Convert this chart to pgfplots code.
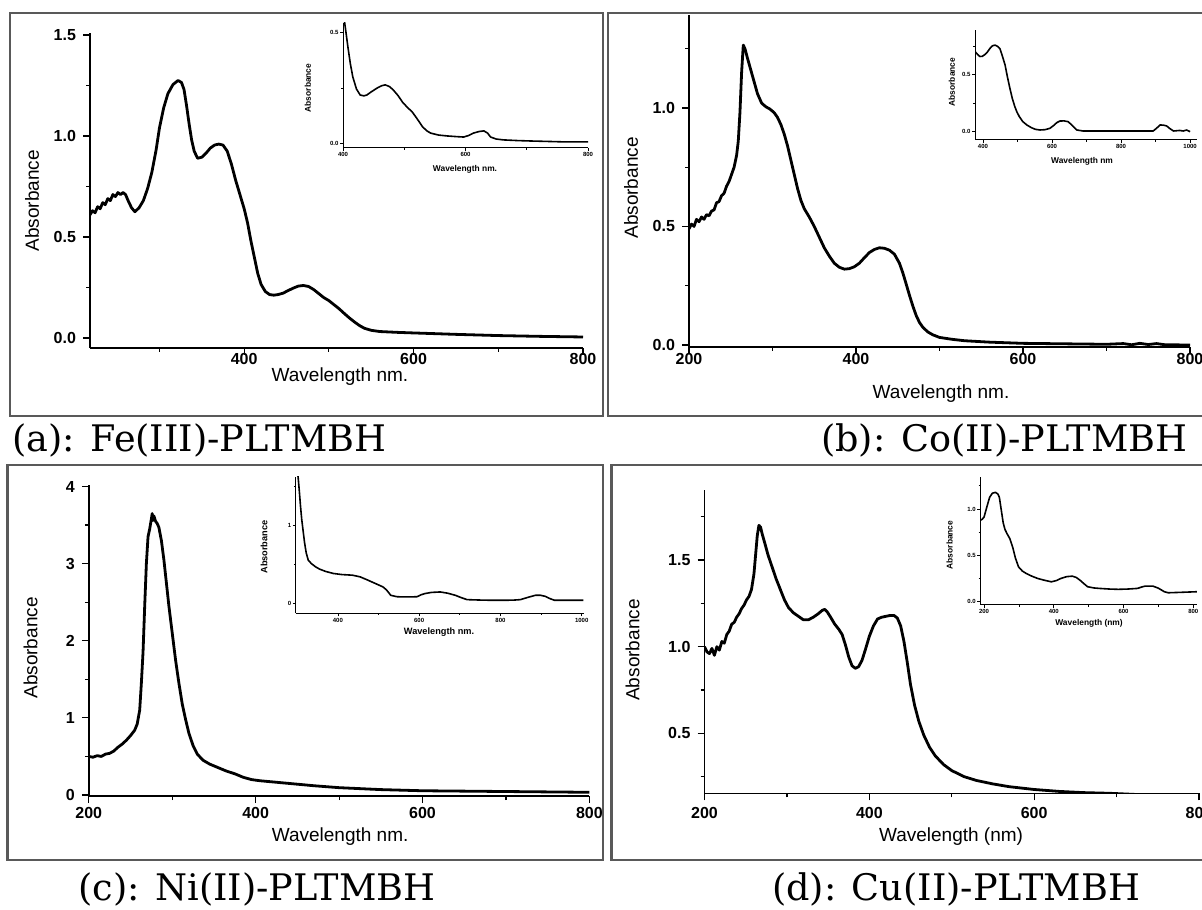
\documentclass[border=0pt]{standalone}
\usepackage{fontspec}
\setmainfont{Liberation Sans}
\newfontfamily\capfont{DejaVu Serif}
\usepackage{pgfplots}
\pgfplotsset{compat=1.18}
\pgfplotsset{
  mainax/.style={scale only axis, axis x line*=bottom, axis y line*=left,
    tick align=outside, major tick length=3.5pt, minor tick length=2pt,
    every tick/.style={black, line width=0.6pt},
    axis line style={line width=0.75pt},
    /pgf/number format/assume math mode=true,
    /pgf/number format/1000 sep={},
    tick label style={font=\bfseries\fontsize{8}{9}\selectfont},
    label style={font=\fontsize{9.5}{11}\selectfont},
    xlabel={Wavelength nm.}, ylabel={Absorbance},
    xtick={200,400,600,800}, minor xtick={300,500,700},
    clip=true},
  inax/.style={scale only axis, axis x line*=bottom, axis y line*=left,
    tick align=outside, major tick length=1.5pt, minor tick length=0.8pt,
    every tick/.style={black, line width=0.4pt},
    axis line style={line width=0.5pt},
    /pgf/number format/assume math mode=true,
    /pgf/number format/1000 sep={},
    tick label style={font=\bfseries\fontsize{3}{3.5}\selectfont, inner sep=0.6pt},
    label style={font=\bfseries\fontsize{4.2}{5}\selectfont},
    xlabel={Wavelength nm.}, ylabel={Absorbance}},
  dec1/.style={yticklabel style={/pgf/number format/.cd, fixed, fixed zerofill, precision=1}},
  curve/.style={black, line width=1.4pt, line join=round},
  icurve/.style={black, line width=0.8pt, line join=round}
}
\begin{document}
\begin{tikzpicture}[x=0.5pt,y=0.5pt]
\path[use as bounding box] (0,0) rectangle (1202,909);
\clip (0,0) rectangle (1202,909);
\fill[white] (0,0) rectangle (1202,909);
% frames
\draw[black!65, line width=1.3pt] (10,896) rectangle (603,493);
\draw[black!65, line width=1.3pt] (608,896) rectangle (1215,493);
\draw[black!65, line width=1.3pt] (7.7,444) rectangle (603,49);
\draw[black!65, line width=1.3pt] (611.5,444) rectangle (1215,49);
% captions
\node[anchor=base west, inner sep=0pt, font=\capfont\fontsize{18.3}{20}\selectfont] at (12,457) {(a): Fe(III)-PLTMBH};
\node[anchor=base east, inner sep=0pt, font=\capfont\fontsize{18.3}{20}\selectfont] at (1188,457) {(b): Co(II)-PLTMBH};
\node[anchor=base, inner sep=0pt, font=\capfont\fontsize{18.3}{20}\selectfont] at (257,9) {(c): Ni(II)-PLTMBH};
\node[anchor=base, inner sep=0pt, font=\capfont\fontsize{18.3}{20}\selectfont] at (956,9) {(d): Cu(II)-PLTMBH};

% ---------- (a) main
\begin{axis}[mainax, dec1, at={(45pt,280.5pt)}, anchor=south west,
  width=246.5pt, height=157.5pt, xmin=218, xmax=800, ymin=-0.0495, ymax=1.51,
  xtick={400,600,800},
  xticklabel style={yshift=4.5pt},
  ytick={0,0.5,1,1.5}, minor ytick={0.25,0.75,1.25},
  xlabel style={at={(axis description cs:0.507,-0.092)}, anchor=center},
  ylabel style={at={(axis description cs:-0.1176,0.467)}, anchor=center}]
\addplot[curve] coordinates {
(218,0.61)(221,0.63)(224,0.62)(227,0.65)(230,0.64)(233,0.67)(236,0.66)(239,0.69)
(242,0.68)(245,0.71)(248,0.70)(251,0.72)(254,0.71)(257,0.72)(260,0.71)(263,0.68)
(267,0.645)(271,0.625)(276,0.645)(281,0.68)(286,0.74)(291,0.82)(296,0.93)(300,1.04)
(305,1.14)(310,1.21)(316,1.255)(322,1.275)(326,1.265)(329,1.23)(332,1.15)(335,1.06)
(338,0.98)(341,0.925)(345,0.89)(350,0.895)(355,0.915)(360,0.94)(365,0.955)(370,0.96)
(375,0.955)(380,0.925)(385,0.86)(390,0.78)(395,0.71)(400,0.64)(404,0.57)(408,0.48)
(412,0.40)(416,0.32)(420,0.265)(425,0.23)(430,0.215)(435,0.212)(440,0.215)(446,0.222)
(452,0.235)(458,0.247)(464,0.257)(470,0.26)(476,0.255)(482,0.24)(488,0.22)(494,0.20)
(500,0.185)(506,0.165)(512,0.145)(518,0.122)(524,0.10)(530,0.08)(536,0.062)(542,0.048)
(550,0.038)(560,0.032)(580,0.028)(600,0.025)(650,0.018)(700,0.012)(750,0.008)(800,0.005)};
\end{axis}
% ---------- (a) inset
\begin{axis}[inax, dec1, at={(171.5pt,380.5pt)}, anchor=south west,
  width=122.5pt, height=62.5pt, xmin=400, xmax=800, ymin=-0.0227, ymax=0.545,
  xtick={400,600,800}, minor xtick={500,700},
  ytick={0,0.5}, minor ytick={0.25},
  xlabel style={at={(axis description cs:0.498,-0.08)}, anchor=north},
  ylabel style={at={(axis description cs:-0.143,0.48)}, anchor=center}]
\addplot[icurve] coordinates {
(401,0.58)(404,0.52)(408,0.436)(412,0.36)(416,0.30)(422,0.245)(428,0.218)(434,0.214)
(439,0.218)(446,0.232)(456,0.25)(463,0.26)(469,0.264)(476,0.256)(482,0.241)(490,0.215)
(497,0.186)(505,0.162)(513,0.141)(521,0.11)(530,0.073)(537,0.055)(543,0.045)(556,0.036)
(570,0.032)(585,0.029)(597,0.027)(605,0.034)(613,0.045)(622,0.052)(630,0.055)(636,0.045)
(641,0.027)(650,0.018)(662,0.014)(685,0.011)(707,0.009)(735,0.007)(761,0.005)(800,0.005)};
\end{axis}

% ---------- (b) main
\begin{axis}[mainax, dec1, at={(344.5pt,281pt)}, anchor=south west,
  width=250.5pt, height=166pt, xmin=200, xmax=800, ymin=-0.0084, ymax=1.392,
  xticklabel style={yshift=4pt},
  ytick={0,0.5,1}, minor ytick={0.25,0.75,1.25},
  xlabel style={at={(axis description cs:0.503,-0.1416)}, anchor=center},
  ylabel style={at={(axis description cs:-0.1158,0.479)}, anchor=center}]
\addplot[curve] coordinates {
(200,0.49)(203,0.51)(206,0.50)(209,0.53)(212,0.52)(215,0.54)(218,0.53)(221,0.55)
(224,0.545)(227,0.565)(230,0.57)(233,0.60)(236,0.605)(239,0.63)(242,0.64)(245,0.67)
(248,0.69)(251,0.72)(254,0.75)(257,0.80)(259,0.86)(261,0.98)(263,1.15)(265,1.265)
(267,1.25)(270,1.21)(274,1.16)(278,1.11)(282,1.06)(287,1.02)(292,1.005)(297,0.995)
(302,0.98)(306,0.96)(310,0.93)(314,0.89)(318,0.84)(322,0.78)(326,0.72)(330,0.66)
(334,0.61)(338,0.575)(344,0.54)(350,0.50)(356,0.455)(362,0.41)(368,0.375)(374,0.345)
(380,0.328)(386,0.32)(392,0.322)(398,0.33)(404,0.345)(410,0.368)(416,0.39)(422,0.403)
(428,0.41)(434,0.408)(440,0.40)(446,0.383)(452,0.345)(456,0.305)(460,0.258)(464,0.21)
(468,0.165)(472,0.125)(476,0.095)(480,0.075)(486,0.055)(492,0.043)(500,0.032)(515,0.024)
(530,0.018)(560,0.012)(600,0.007)(650,0.005)(700,0.003)(720,0.006)(730,0.001)(740,0.007)
(750,0.002)(760,0.006)(770,0.001)(800,0.0)};
\end{axis}
% ---------- (b) inset
\begin{axis}[inax, dec1, at={(487.5pt,384.5pt)}, anchor=south west,
  width=111pt, height=55pt, xmin=377, xmax=1020, ymin=-0.08, ymax=0.9,
  xtick={400,600,800,1000}, minor xtick={500,700,900},
  ytick={0,0.5}, minor ytick={0.25,0.75},
  xlabel={Wavelength nm},
  xlabel style={at={(axis description cs:0.482,-0.091)}, anchor=north},
  ylabel style={at={(axis description cs:-0.104,0.527)}, anchor=center}]
\addplot[icurve] coordinates {
(377,0.708)(385,0.68)(391,0.664)(398,0.665)(405,0.68)(412,0.70)(420,0.735)(428,0.76)
(435,0.765)(442,0.755)(449,0.735)(456,0.67)(464,0.589)(471,0.48)(478,0.381)(485,0.29)
(492,0.22)(498,0.172)(505,0.13)(515,0.085)(527,0.054)(540,0.03)(552,0.015)(565,0.009)
(580,0.012)(594,0.024)(605,0.05)(614,0.075)(623,0.089)(635,0.09)(647,0.083)(660,0.045)
(672,0.009)(690,0.0)(710,0.0)(893,0.0)(903,0.025)(913,0.054)(923,0.052)(932,0.045)
(942,0.02)(952,0.0)(970,0.005)(980,0.0)(990,0.009)(1000,-0.006)};
\end{axis}

% ---------- (c) main
\begin{axis}[mainax, at={(44.4pt,56.5pt)}, anchor=south west,
  width=250.3pt, height=155.5pt, xmin=200, xmax=800, ymin=-0.013, ymax=4.02,
  xticklabel style={yshift=1.5pt},
  ytick={0,1,2,3,4}, minor ytick={0.5,1.5,2.5,3.5},
  xlabel style={at={(axis description cs:0.502,-0.131)}, anchor=center},
  ylabel style={at={(axis description cs:-0.1163,0.476)}, anchor=center}]
\addplot[curve] coordinates {
(200,0.50)(205,0.49)(210,0.51)(215,0.50)(220,0.53)(225,0.54)(230,0.57)(235,0.62)
(240,0.66)(245,0.71)(250,0.77)(255,0.84)(258,0.92)(261,1.10)(263,1.45)(265,1.85)
(267,2.45)(269,3.0)(271,3.35)(273,3.45)(275,3.58)(276,3.65)(277,3.56)(278,3.62)
(280,3.55)(282,3.52)(284,3.47)(287,3.30)(290,3.05)(293,2.75)(296,2.45)(300,2.10)
(304,1.75)(308,1.45)(312,1.18)(316,0.98)(320,0.80)(325,0.64)(330,0.53)(337,0.45)
(345,0.40)(355,0.355)(365,0.31)(375,0.275)(385,0.23)(395,0.20)(405,0.185)(420,0.17)
(440,0.15)(470,0.12)(500,0.095)(550,0.07)(600,0.055)(700,0.045)(800,0.035)};
\end{axis}
% ---------- (c) inset
\begin{axis}[inax, at={(147.9pt,147.85pt)}, anchor=south west,
  width=143.9pt, height=68.3pt, xmin=296.4, xmax=1004.7, ymin=-0.129, ymax=1.631,
  xtick={400,600,800,1000}, minor xtick={500,700,900},
  ytick={0,1}, minor ytick={0.5,1.5},
  label style={font=\bfseries\fontsize{4.6}{5.5}\selectfont},
  xlabel style={at={(axis description cs:0.4976,-0.135)}, anchor=center},
  ylabel style={at={(axis description cs:-0.11,0.485)}, anchor=center}]
\addplot[icurve] coordinates {
(300,1.70)(302,1.63)(305,1.45)(308,1.25)(311,1.08)(314,0.95)(318,0.78)(322,0.65)
(327,0.556)(335,0.51)(345,0.47)(355,0.44)(370,0.41)(389,0.384)(410,0.37)(436,0.362)
(455,0.34)(473,0.30)(490,0.26)(511,0.211)(520,0.17)(530,0.103)(545,0.085)(558,0.082)
(580,0.082)(595,0.085)(605,0.11)(614,0.125)(630,0.14)(652,0.146)(670,0.13)(689,0.103)
(705,0.07)(718,0.047)(760,0.04)(792,0.039)(830,0.04)(849,0.047)(870,0.08)(886,0.103)
(898,0.104)(910,0.09)(922,0.06)(933,0.039)(1004,0.039)};
\end{axis}

% ---------- (d) main
\begin{axis}[mainax, dec1, at={(352.25pt,57.85pt)}, anchor=south west,
  width=247.25pt, height=151.65pt, xmin=200, xmax=800, ymin=0.154, ymax=1.904,
  ytick={0.5,1,1.5}, minor ytick={0.25,0.75,1.25,1.75},
  xlabel={Wavelength (nm)},
  xlabel style={at={(axis description cs:0.4985,-0.143)}, anchor=center},
  ylabel style={at={(axis description cs:-0.1454,0.4725)}, anchor=center}]
\addplot[curve] coordinates {
(200,1.00)(203,0.97)(206,0.96)(209,0.99)(212,0.95)(215,1.00)(218,0.98)(221,1.03)
(224,1.02)(227,1.07)(230,1.09)(233,1.13)(236,1.14)(239,1.17)(242,1.19)(245,1.22)
(248,1.24)(251,1.27)(254,1.29)(257,1.33)(260,1.42)(262,1.53)(264,1.64)(266,1.70)
(268,1.69)(270,1.65)(273,1.60)(277,1.53)(282,1.46)(287,1.39)(292,1.33)(297,1.27)
(302,1.225)(308,1.195)(314,1.175)(320,1.155)(326,1.155)(332,1.17)(338,1.19)(343,1.21)
(346,1.215)(349,1.20)(353,1.17)(358,1.13)(363,1.10)(367,1.07)(371,1.01)(375,0.94)
(379,0.89)(383,0.875)(387,0.885)(391,0.92)(395,0.98)(400,1.06)(405,1.12)(410,1.16)
(415,1.17)(420,1.175)(425,1.18)(430,1.18)(434,1.165)(438,1.12)(442,1.03)(446,0.91)
(450,0.78)(455,0.66)(460,0.57)(466,0.49)(473,0.42)(480,0.37)(490,0.32)(500,0.285)
(515,0.25)(530,0.228)(550,0.208)(570,0.192)(600,0.176)(630,0.165)(660,0.158)(692,0.154)
(720,0.148)(760,0.14)(800,0.13)};
\end{axis}
% ---------- (d) inset
\begin{axis}[inax, dec1, at={(490.1pt,152pt)}, anchor=south west,
  width=108.4pt, height=64.15pt, xmin=189.1, xmax=810.6, ymin=-0.036, ymax=1.348,
  xtick={200,400,600,800}, minor xtick={300,500,700},
  ytick={0,0.5,1}, minor ytick={0.25,0.75,1.25},
  xlabel={Wavelength (nm)},
  xlabel style={at={(axis description cs:0.502,-0.14)}, anchor=center},
  ylabel style={at={(axis description cs:-0.1416,0.468)}, anchor=center}]
\addplot[icurve] coordinates {
(189,0.876)(195,0.89)(200,0.911)(208,1.02)(216,1.125)(224,1.17)(233,1.179)(240,1.16)
(244,1.125)(249,1.0)(255,0.85)(260,0.78)(266,0.733)(274,0.68)(282,0.59)(290,0.47)
(299,0.375)(310,0.33)(321,0.304)(337,0.275)(354,0.25)(372,0.232)(393,0.214)(408,0.228)
(420,0.25)(437,0.27)(453,0.275)(465,0.26)(475,0.232)(486,0.195)(497,0.161)(515,0.148)
(530,0.143)(560,0.136)(585,0.133)(612,0.136)(640,0.143)(652,0.158)(662,0.168)(684,0.168)
(700,0.145)(717,0.107)(728,0.096)(760,0.1)(810,0.107)};
\end{axis}
\end{tikzpicture}
\end{document}
